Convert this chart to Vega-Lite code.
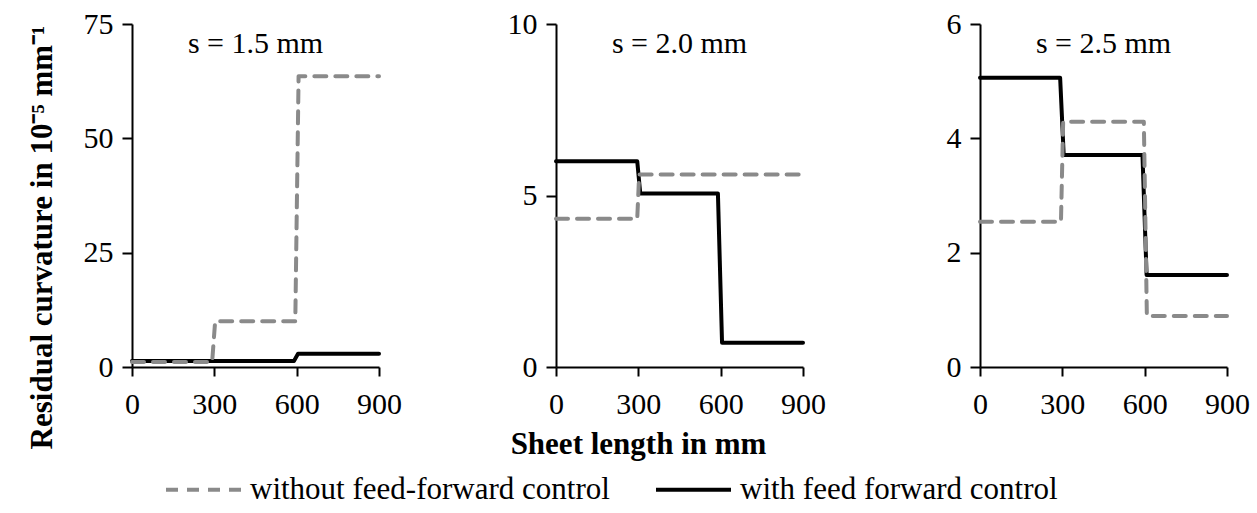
{
  "$schema": "https://vega.github.io/schema/vega-lite/v6.json",
  "background": "white",
  "bounds": "flush",
  "spacing": 177,
  "padding": {"left": 25, "top": 9, "right": 5, "bottom": 0},
  "config": {
    "font": "Liberation Serif",
    "view": {"stroke": null},
    "axis": {
      "domainColor": "#000000",
      "domainWidth": 2,
      "tickColor": "#000000",
      "tickWidth": 2,
      "grid": false,
      "labelFont": "Liberation Serif",
      "labelFontSize": 30,
      "labelColor": "#000000",
      "titleFont": "Liberation Serif",
      "titleFontSize": 31,
      "titleFontWeight": "bold",
      "titleColor": "#000000"
    },
    "axisX": {"labelFlush": false, "labelOverlap": false, "tickSize": 9, "labelPadding": 13},
    "axisY": {"labelFlush": false, "labelOverlap": false, "tickSize": 10, "labelPadding": 9},
    "text": {"font": "Liberation Serif", "fontSize": 30, "color": "#000000"},
    "legend": {"labelFont": "Liberation Serif", "labelFontSize": 31, "labelColor": "#000000", "labelLimit": 600}
  },
  "datasets": {
    "curv": [
      {"panel": 1, "series": "with feed forward control", "x": 0, "y": 1.3},
      {"panel": 1, "series": "with feed forward control", "x": 590, "y": 1.3},
      {"panel": 1, "series": "with feed forward control", "x": 605, "y": 2.9},
      {"panel": 1, "series": "with feed forward control", "x": 900, "y": 2.9},
      {"panel": 1, "series": "without feed-forward control", "x": 0, "y": 1.1},
      {"panel": 1, "series": "without feed-forward control", "x": 292, "y": 1.1},
      {"panel": 1, "series": "without feed-forward control", "x": 303, "y": 10.0},
      {"panel": 1, "series": "without feed-forward control", "x": 595, "y": 10.0},
      {"panel": 1, "series": "without feed-forward control", "x": 607, "y": 63.6},
      {"panel": 1, "series": "without feed-forward control", "x": 900, "y": 63.6},
      {"panel": 2, "series": "with feed forward control", "x": 0, "y": 6.0},
      {"panel": 2, "series": "with feed forward control", "x": 296, "y": 6.0},
      {"panel": 2, "series": "with feed forward control", "x": 307, "y": 5.06},
      {"panel": 2, "series": "with feed forward control", "x": 590, "y": 5.06},
      {"panel": 2, "series": "with feed forward control", "x": 605, "y": 0.71},
      {"panel": 2, "series": "with feed forward control", "x": 900, "y": 0.71},
      {"panel": 2, "series": "without feed-forward control", "x": 0, "y": 4.32},
      {"panel": 2, "series": "without feed-forward control", "x": 296, "y": 4.32},
      {"panel": 2, "series": "without feed-forward control", "x": 303, "y": 5.61},
      {"panel": 2, "series": "without feed-forward control", "x": 900, "y": 5.61},
      {"panel": 3, "series": "with feed forward control", "x": 0, "y": 5.06},
      {"panel": 3, "series": "with feed forward control", "x": 292, "y": 5.06},
      {"panel": 3, "series": "with feed forward control", "x": 305, "y": 3.71},
      {"panel": 3, "series": "with feed forward control", "x": 592, "y": 3.71},
      {"panel": 3, "series": "with feed forward control", "x": 607, "y": 1.61},
      {"panel": 3, "series": "with feed forward control", "x": 900, "y": 1.61},
      {"panel": 3, "series": "without feed-forward control", "x": 0, "y": 2.54},
      {"panel": 3, "series": "without feed-forward control", "x": 295, "y": 2.54},
      {"panel": 3, "series": "without feed-forward control", "x": 303, "y": 4.29},
      {"panel": 3, "series": "without feed-forward control", "x": 597, "y": 4.29},
      {"panel": 3, "series": "without feed-forward control", "x": 608, "y": 0.89},
      {"panel": 3, "series": "without feed-forward control", "x": 900, "y": 0.89}
    ]
  },
  "resolve": {"scale": {"color": "shared", "strokeDash": "shared"}, "legend": {"color": "shared", "strokeDash": "shared"}},
  "hconcat": [
    {
      "width": 247,
      "height": 343,
      "layer": [
        {
          "data": {"name": "curv"},
          "transform": [{"filter": "datum.panel == 1"}],
          "mark": {"type": "line", "strokeWidth": 4, "strokeCap": "round", "strokeJoin": "round"},
          "encoding": {
            "x": {"field": "x", "type": "quantitative", "scale": {"domain": [0, 900], "nice": false}, "axis": {"values": [0, 300, 600, 900], "format": "d", "title": null}},
            "y": {"field": "y", "type": "quantitative", "scale": {"domain": [0, 75], "nice": false}, "axis": {"values": [0, 25, 50, 75], "format": "d", "title": "Residual curvature in 10⁻⁵ mm⁻¹", "titleX": -81, "titleY": 213, "titleAngle": 270, "titleAlign": "center", "titleBaseline": "alphabetic"}},
            "color": {"field": "series", "type": "nominal", "scale": {"domain": ["without feed-forward control", "with feed forward control"], "range": ["#8a8a8a", "#000000"]},
              "legend": {"title": null, "orient": "none", "direction": "horizontal", "legendX": 32, "legendY": 426, "symbolType": "stroke", "symbolSize": 5625, "symbolStrokeWidth": 4, "labelOffset": 7, "columnPadding": 38, "labelLimit": 600}},
            "strokeDash": {"field": "series", "type": "nominal", "scale": {"domain": ["without feed-forward control", "with feed forward control"], "range": [[12, 9], [1, 0]]},
              "legend": {"title": null, "orient": "none", "direction": "horizontal", "legendX": 32, "legendY": 426, "symbolType": "stroke", "symbolSize": 5625, "symbolStrokeWidth": 4, "labelOffset": 7, "columnPadding": 38, "labelLimit": 600}}
          }
        },
        {
          "data": {"values": [{"label": "s = 1.5 mm"}]},
          "mark": {"type": "text", "align": "center", "baseline": "alphabetic"},
          "encoding": {
            "x": {"datum": 450, "type": "quantitative"},
            "y": {"datum": 68.66, "type": "quantitative"},
            "text": {"field": "label"}
          }
        }
      ]
    },
    {
      "width": 247,
      "height": 343,
      "layer": [
        {
          "data": {"name": "curv"},
          "transform": [{"filter": "datum.panel == 2"}],
          "mark": {"type": "line", "strokeWidth": 4, "strokeCap": "round", "strokeJoin": "round"},
          "encoding": {
            "x": {"field": "x", "type": "quantitative", "scale": {"domain": [0, 900], "nice": false}, "axis": {"values": [0, 300, 600, 900], "format": "d", "title": "Sheet length in mm", "titleX": 82, "titleY": 86, "titleAlign": "center", "titleBaseline": "alphabetic"}},
            "y": {"field": "y", "type": "quantitative", "scale": {"domain": [0, 10], "nice": false}, "axis": {"values": [0, 5, 10], "format": "d", "title": null}},
            "color": {"field": "series", "type": "nominal"},
            "strokeDash": {"field": "series", "type": "nominal"}
          }
        },
        {
          "data": {"values": [{"label": "s = 2.0 mm"}]},
          "mark": {"type": "text", "align": "center", "baseline": "alphabetic"},
          "encoding": {
            "x": {"datum": 450, "type": "quantitative"},
            "y": {"datum": 9.15, "type": "quantitative"},
            "text": {"field": "label"}
          }
        }
      ]
    },
    {
      "width": 247,
      "height": 343,
      "layer": [
        {
          "data": {"name": "curv"},
          "transform": [{"filter": "datum.panel == 3"}],
          "mark": {"type": "line", "strokeWidth": 4, "strokeCap": "round", "strokeJoin": "round"},
          "encoding": {
            "x": {"field": "x", "type": "quantitative", "scale": {"domain": [0, 900], "nice": false}, "axis": {"values": [0, 300, 600, 900], "format": "d", "title": null}},
            "y": {"field": "y", "type": "quantitative", "scale": {"domain": [0, 6], "nice": false}, "axis": {"values": [0, 2, 4, 6], "format": "d", "title": null}},
            "color": {"field": "series", "type": "nominal"},
            "strokeDash": {"field": "series", "type": "nominal"}
          }
        },
        {
          "data": {"values": [{"label": "s = 2.5 mm"}]},
          "mark": {"type": "text", "align": "center", "baseline": "alphabetic"},
          "encoding": {
            "x": {"datum": 450, "type": "quantitative"},
            "y": {"datum": 5.49, "type": "quantitative"},
            "text": {"field": "label"}
          }
        }
      ]
    }
  ]
}
